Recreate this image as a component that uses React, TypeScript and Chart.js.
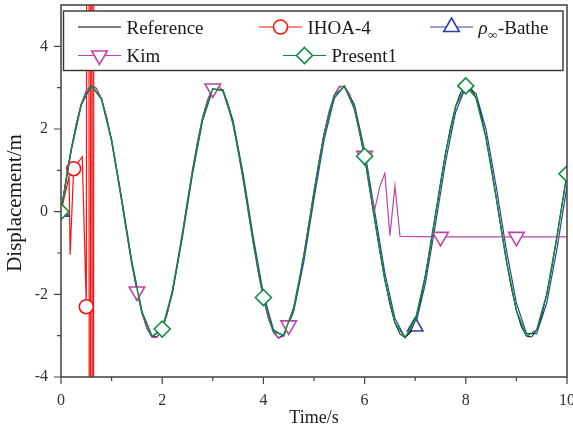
import React, { useEffect, useRef } from "react";
import { Chart, registerables } from "chart.js";

Chart.register(...registerables);

const FONT = "'Liberation Serif', 'Times New Roman', Times, serif";

const xTitle = "Time/s";
const yTitle = "Displacement/m";
const seriesNames = ["Reference", "IHOA-4", "ρ∞-Bathe", "Kim", "Present1"];

const xRange = [0, 10];
const yRange = [-4, 5];
const xTickStep = 2;
const yTickStep = 2;

const refTimes = [
  0, 0.1, 0.2, 0.3, 0.4, 0.5, 0.6, 0.7, 0.8, 0.9,
  1, 1.1, 1.2, 1.3, 1.4, 1.5, 1.6, 1.7, 1.8, 1.9,
  2, 2.1, 2.2, 2.3, 2.4, 2.5, 2.6, 2.7, 2.8, 2.9,
  3, 3.1, 3.2, 3.3, 3.4, 3.5, 3.6, 3.7, 3.8, 3.9,
  4, 4.1, 4.2, 4.3, 4.4, 4.5, 4.6, 4.7, 4.8, 4.9,
  5, 5.1, 5.2, 5.3, 5.4, 5.5, 5.6, 5.7, 5.8, 5.9,
  6, 6.1, 6.2, 6.3, 6.4, 6.5, 6.6, 6.7, 6.8, 6.9,
  7, 7.1, 7.2, 7.3, 7.4, 7.5, 7.6, 7.7, 7.8, 7.9,
  8, 8.1, 8.2, 8.3, 8.4, 8.5, 8.6, 8.7, 8.8, 8.9,
  9, 9.1, 9.2, 9.3, 9.4, 9.5, 9.6, 9.7, 9.8, 9.9,
  10,
];
const refValues = [
  0, 0.767, 1.486, 2.108, 2.595, 2.915, 3.047, 2.983, 2.727, 2.297,
  1.717, 1.025, 0.271, -0.501, -1.243, -1.902, -2.438, -2.824, -3.023, -3.028,
  -2.839, -2.468, -1.936, -1.278, -0.54, 0.232, 0.99, 1.684, 2.27, 2.709,
  2.975, 3.048, 2.926, 2.615, 2.138, 1.52, 0.808, 0.039, -0.729, -1.452,
  -2.078, -2.574, -2.905, -3.045, -2.991, -2.743, -2.327, -1.75, -1.062, -0.31,
  0.464, 1.207, 1.873, 2.419, 2.808, 3.017, 3.032, 2.852, 2.487, 1.962,
  1.315, 0.577, -0.194, -0.954, -1.65, -2.243, -2.692, -2.965, -3.049, -2.938,
  -2.637, -2.169, -1.557, -0.844, -0.078, 0.692, 1.417, 2.051, 2.553, 2.891,
  3.043, 2.998, 2.761, 2.349, 1.782, 1.097, 0.348, -0.425, -1.171, -1.843,
  -2.389, -2.794, -3.011, -3.035, -2.865, -2.513, -1.997, -1.35, -0.617, 0.155,
  0.917,
];

const coarseTimes = [
  0, 0.2, 0.4, 0.6, 0.8, 1, 1.2, 1.4, 1.6, 1.8,
  2, 2.2, 2.4, 2.6, 2.8, 3, 3.2, 3.4, 3.6, 3.8,
  4, 4.2, 4.4, 4.6, 4.8, 5, 5.2, 5.4, 5.6, 5.8,
  6, 6.2, 6.4, 6.6, 6.8, 7, 7.2, 7.4, 7.6, 7.8,
  8, 8.2, 8.4, 8.6, 8.8, 9, 9.2, 9.4, 9.6, 9.8,
  10,
];
const present1Values = [
  0, 1.486, 2.595, 3.047, 2.727, 1.717, 0.271, -1.243, -2.438, -3.023,
  -2.839, -1.936, -0.54, 0.99, 2.27, 2.975, 2.926, 2.138, 0.808, -0.729,
  -2.078, -2.905, -2.991, -2.327, -1.062, 0.464, 1.873, 2.808, 3.032, 2.487,
  1.34, -0.194, -1.65, -2.692, -3.049, -2.637, -1.557, -0.078, 1.417, 2.553,
  3.043, 2.761, 1.782, 0.348, -1.171, -2.389, -3.011, -2.865, -1.997, -0.617,
  0.917,
];
const batheValues = [
  0, 1.48, 2.589, 3.046, 2.739, 1.743, 0.309, -1.203, -2.413, -3.015,
  -2.86, -1.987, -0.614, 0.913, 2.21, 2.952, 2.953, 2.211, 0.914, -0.613,
  -1.986, -2.859, -3.015, -2.413, -1.203, 0.308, 1.742, 2.738, 3.046, 2.589,
  1.481, 0.001, -1.479, -2.588, -3.046, -2.78, -1.743, -0.31, 1.202, 2.412,
  3.015, 2.86, 1.988, 0.615, -0.912, -2.209, -2.952, -2.953, -2.211, -0.914,
  0.613,
];

const kimTimes = [
  0, 0.1, 0.2, 0.3, 0.4, 0.5, 0.6, 0.7, 0.8, 0.9,
  1, 1.1, 1.2, 1.3, 1.4, 1.5, 1.6, 1.7, 1.8, 1.9,
  2, 2.1, 2.2, 2.3, 2.4, 2.5, 2.6, 2.7, 2.8, 2.9,
  3, 3.1, 3.2, 3.3, 3.4, 3.5, 3.6, 3.7, 3.8, 3.9,
  4, 4.1, 4.2, 4.3, 4.4, 4.5, 4.6, 4.7, 4.8, 4.9,
  5, 5.1, 5.2, 5.3, 5.4, 5.5, 5.6, 5.7, 5.8, 5.9,
  6, 6.1, 6.2, 6.3, 6.4, 6.5, 6.6, 6.7, 7.5, 9,
  10,
];
const kimValues = [
  0, 0.78, 1.5, 2.12, 2.61, 2.93, 3.06, 2.99, 2.73, 2.29,
  1.7, 1.0, 0.25, -0.53, -1.27, -1.93, -2.46, -2.84, -3.04, -3.04,
  -2.83, -2.45, -1.91, -1.25, -0.51, 0.26, 1.02, 1.71, 2.29, 2.72,
  2.98, 3.05, 2.92, 2.6, 2.12, 1.5, 0.78, 0.01, -0.76, -1.48,
  -2.1, -2.6, -2.93, -3.07, -3.0, -2.75, -2.32, -1.73, -1.04, -0.28,
  0.49, 1.23, 1.9, 2.44, 2.82, 3.03, 3.03, 2.84, 2.47, 1.94,
  1.35, 0.56, 0.05, 0.6, 0.93, -0.58, 0.62, -0.6, -0.61, -0.61,
  -0.61,
];

const ihoaTimes = [0, 0.16, 0.18, 0.25, 0.42, 0.5, 0.54, 0.57, 0.6, 0.63, 0.66];
const ihoaValues = [0, 0.85, -1.04, 1.04, 1.33, -2.3, 40, -40, 40, -40, 40];

const ihoaMarkers = [0.25, 0.5];
const batheMarkers = [0, 7];
const kimMarkers = [1.5, 3, 4.5, 6, 7.5, 9];
const present1Markers = [0, 2, 4, 6, 8, 10];

const COLORS = {
  reference: "#000000",
  ihoa: "#ff1010",
  bathe: "#2f40a0",
  kim: "#c044a8",
  present1: "#0f8a3e",
};

const R_CIRCLE = 7;
const R_TRI = 9;
const R_DIAMOND = 8;

function pts(t: number[], v: number[]) {
  return t.map((x, i) => ({ x, y: v[i] }));
}

function markerRadius(list: number[], r: number) {
  return (ctx: any) => {
    const raw = ctx.raw;
    if (!raw) return 0;
    return list.some((m) => Math.abs(m - raw.x) < 1e-9) ? r : 0;
  };
}

type Shape = "none" | "circle" | "triUp" | "triDown" | "diamond";

function drawShape(ctx: CanvasRenderingContext2D, shape: Shape, x: number, y: number, color: string) {
  if (shape === "none") return;
  ctx.save();
  ctx.beginPath();
  if (shape === "circle") {
    ctx.arc(x, y, R_CIRCLE, 0, Math.PI * 2);
  } else if (shape === "triUp" || shape === "triDown") {
    const s = shape === "triUp" ? 1 : -1;
    for (let k = 0; k < 3; k++) {
      const a = (k * 2 * Math.PI) / 3;
      const px = x + Math.sin(a) * R_TRI * s;
      const py = y - Math.cos(a) * R_TRI * s;
      if (k === 0) ctx.moveTo(px, py);
      else ctx.lineTo(px, py);
    }
    ctx.closePath();
  } else if (shape === "diamond") {
    ctx.moveTo(x, y - R_DIAMOND);
    ctx.lineTo(x + R_DIAMOND, y);
    ctx.lineTo(x, y + R_DIAMOND);
    ctx.lineTo(x - R_DIAMOND, y);
    ctx.closePath();
  }
  ctx.fillStyle = "#ffffff";
  ctx.fill();
  ctx.lineWidth = 1.6;
  ctx.strokeStyle = color;
  ctx.stroke();
  ctx.restore();
}

const legendLayout: { name: string; color: string; shape: Shape; row: number; lineX: number }[] = [
  { name: seriesNames[0], color: COLORS.reference, shape: "none", row: 0, lineX: 78 },
  { name: seriesNames[1], color: COLORS.ihoa, shape: "circle", row: 0, lineX: 259 },
  { name: seriesNames[2], color: COLORS.bathe, shape: "triUp", row: 0, lineX: 430 },
  { name: seriesNames[3], color: COLORS.kim, shape: "triDown", row: 1, lineX: 78 },
  { name: seriesNames[4], color: COLORS.present1, shape: "diamond", row: 1, lineX: 283 },
];

const framePlugin = {
  id: "frameTicksLegend",
  afterDraw(chart: any) {
    const { ctx, chartArea: a, scales } = chart;
    const xs = scales.x;
    const ys = scales.y;
    ctx.save();
    ctx.strokeStyle = "#444";
    ctx.lineWidth = 1.2;
    const xMaj: number[] = xs.ticks.map((t: any) => t.value);
    const yMaj: number[] = ys.ticks.map((t: any) => t.value);
    const mids = (v: number[]) => v.slice(0, -1).map((val, i) => (val + v[i + 1]) / 2);
    ctx.beginPath();
    xMaj.forEach((v) => {
      const p = xs.getPixelForValue(v);
      ctx.moveTo(p, a.bottom);
      ctx.lineTo(p, a.bottom + 7);
    });
    mids(xMaj).forEach((v) => {
      const p = xs.getPixelForValue(v);
      ctx.moveTo(p, a.bottom);
      ctx.lineTo(p, a.bottom + 4);
    });
    yMaj.forEach((v) => {
      const p = ys.getPixelForValue(v);
      ctx.moveTo(a.left, p);
      ctx.lineTo(a.left - 7, p);
    });
    mids(yMaj).forEach((v) => {
      const p = ys.getPixelForValue(v);
      ctx.moveTo(a.left, p);
      ctx.lineTo(a.left - 4, p);
    });
    ctx.stroke();
    ctx.lineWidth = 1.6;
    ctx.strokeStyle = "#4a4a4a";
    ctx.strokeRect(a.left, a.top, a.right - a.left, a.bottom - a.top);

    // y axis title
    ctx.save();
    ctx.translate(15, 203);
    ctx.rotate(-Math.PI / 2);
    ctx.font = `21px ${FONT}`;
    ctx.fillStyle = "#1a1a1a";
    ctx.textAlign = "center";
    ctx.textBaseline = "middle";
    ctx.fillText(yTitle, 0, 0);
    ctx.restore();

    // legend
    const bx = 63.5, by = 11, bw = 499.5, bh = 59.5;
    ctx.fillStyle = "#ffffff";
    ctx.fillRect(bx, by, bw, bh);
    ctx.lineWidth = 1.4;
    ctx.strokeStyle = "#333";
    ctx.strokeRect(bx, by, bw, bh);
    const rowCenter = [27, 55.5];
    const rowBase = [33.5, 62];
    legendLayout.forEach((it) => {
      const cy = rowCenter[it.row];
      ctx.beginPath();
      ctx.strokeStyle = it.color;
      ctx.lineWidth = 1.2;
      ctx.moveTo(it.lineX, cy);
      ctx.lineTo(it.lineX + 43, cy);
      ctx.stroke();
      drawShape(ctx, it.shape, it.lineX + 21.5, cy, it.color);
      let tx = it.lineX + 48.5;
      const ty = rowBase[it.row];
      ctx.fillStyle = "#1a1a1a";
      ctx.textBaseline = "alphabetic";
      ctx.textAlign = "left";
      if (it.name.startsWith("ρ∞")) {
        ctx.font = `italic 19px ${FONT}`;
        ctx.fillText("ρ", tx, ty);
        tx += ctx.measureText("ρ").width + 0.5;
        ctx.font = `13px ${FONT}`;
        ctx.fillText("∞", tx, ty + 5);
        tx += ctx.measureText("∞").width + 0.5;
        ctx.font = `19px ${FONT}`;
        ctx.fillText(it.name.slice(2), tx, ty);
      } else {
        ctx.font = `19px ${FONT}`;
        ctx.fillText(it.name, tx, ty);
      }
    });
    ctx.restore();
  },
};

export default function App() {
  const ref = useRef<HTMLCanvasElement>(null);
  useEffect(() => {
    const canvas = ref.current!;
    const base = {
      showLine: true,
      fill: false,
      tension: 0,
      clip: 0,
      pointBackgroundColor: "#ffffff",
      pointBorderWidth: 1.6,
    };
    const chart = new Chart(canvas, {
      type: "scatter",
      data: {
        datasets: [
          {
            ...base,
            label: seriesNames[0],
            data: pts(refTimes, refValues),
            borderColor: COLORS.reference,
            borderWidth: 1,
            pointRadius: 0,
            order: 2,
          },
          {
            ...base,
            label: seriesNames[1],
            data: pts(ihoaTimes, ihoaValues),
            borderColor: COLORS.ihoa,
            pointBorderColor: COLORS.ihoa,
            borderWidth: 1.2,
            pointStyle: "circle",
            pointRadius: markerRadius(ihoaMarkers, R_CIRCLE),
            order: 4,
          },
          {
            ...base,
            label: seriesNames[2],
            data: pts(coarseTimes, batheValues),
            borderColor: COLORS.bathe,
            pointBorderColor: COLORS.bathe,
            borderWidth: 1.2,
            pointStyle: "triangle",
            pointRadius: markerRadius(batheMarkers, R_TRI),
            order: 3,
          },
          {
            ...base,
            label: seriesNames[3],
            data: pts(kimTimes, kimValues),
            borderColor: COLORS.kim,
            pointBorderColor: COLORS.kim,
            borderWidth: 1.2,
            pointStyle: "triangle",
            pointRotation: 180,
            pointRadius: markerRadius(kimMarkers, R_TRI),
            order: 1,
          },
          {
            ...base,
            label: seriesNames[4],
            data: pts(coarseTimes, present1Values),
            borderColor: COLORS.present1,
            pointBorderColor: COLORS.present1,
            borderWidth: 1.5,
            pointStyle: "rectRot",
            pointRadius: markerRadius(present1Markers, R_DIAMOND),
            order: 0,
          },
        ] as any,
      },
      options: {
        responsive: false,
        animation: false,
        events: [],
        layout: { autoPadding: false, padding: { top: 5, right: 6, left: 0, bottom: 0 } },
        plugins: { legend: { display: false }, tooltip: { enabled: false } },
        scales: {
          x: {
            type: "linear",
            min: xRange[0],
            max: xRange[1],
            ticks: {
              stepSize: xTickStep,
              font: { family: FONT, size: 16 },
              color: "#333",
              padding: 14,
              maxRotation: 0,
              autoSkip: false,
            },
            grid: { display: false, drawTicks: false },
            border: { display: false },
            title: {
              display: true,
              text: xTitle,
              font: { family: FONT, size: 18 },
              color: "#1a1a1a",
              padding: { top: 0, bottom: 1 },
            },
            afterFit: (s: any) => {
              s.height = 53;
              s.paddingLeft = 0;
              s.paddingRight = 0;
            },
          },
          y: {
            type: "linear",
            min: yRange[0],
            max: yRange[1],
            ticks: {
              stepSize: yTickStep,
              includeBounds: false,
              font: { family: FONT, size: 16 },
              color: "#333",
              padding: 13,
            },
            grid: { display: false, drawTicks: false },
            border: { display: false },
            title: { display: false },
            afterFit: (s: any) => {
              s.width = 61;
              s.paddingTop = 0;
              s.paddingBottom = 0;
            },
          },
        },
      } as any,
      plugins: [framePlugin],
    });
    return () => chart.destroy();
  }, []);
  return (
    <div style={{ position: "absolute", left: 0, top: 0, width: 573, height: 430 }}>
      <canvas ref={ref} width={573} height={430} style={{ display: "block" }} />
    </div>
  );
}
